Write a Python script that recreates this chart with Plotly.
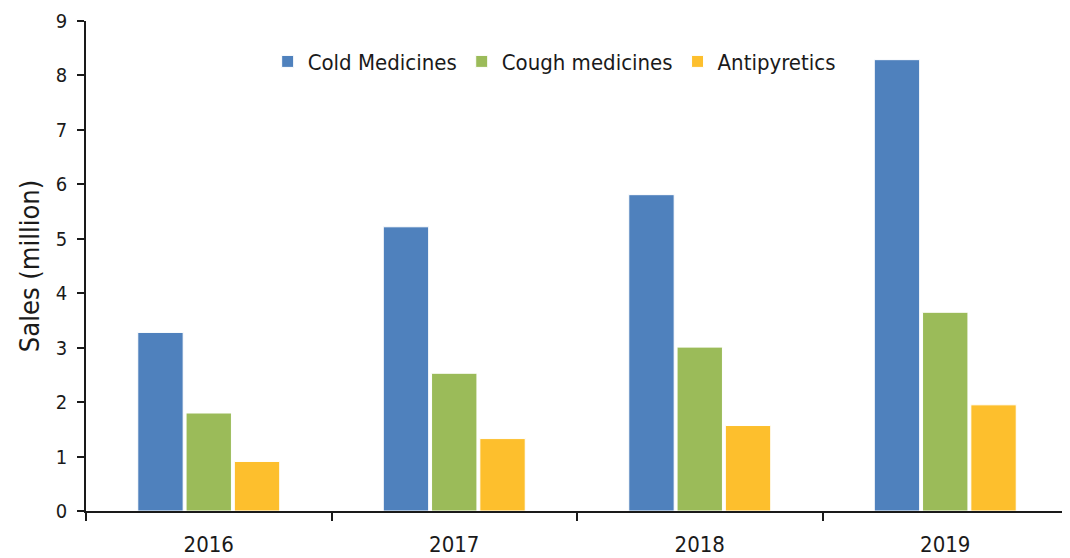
import plotly.graph_objects as go

years = ["2016", "2017", "2018", "2019"]
cold = [3.28, 5.22, 5.81, 8.29]
cough = [1.80, 2.53, 3.01, 3.65]
antipyretics = [0.91, 1.33, 1.57, 1.95]
series_names = ["Cold Medicines", "Cough medicines", "Antipyretics"]
colors = ["#4F81BD", "#9BBB59", "#FDBF2D"]

fig = go.Figure()
for name, vals, col in zip(series_names, [cold, cough, antipyretics], colors):
    fig.add_trace(go.Bar(x=years, y=vals, name=name,
                         marker=dict(color=col, line=dict(color="white", width=1))))

font_family = "DejaVu Sans Condensed, DejaVu Sans, sans-serif"
fig.update_layout(
    width=1062, height=550,
    margin=dict(l=78, r=2, t=13, b=47),
    paper_bgcolor="white", plot_bgcolor="white",
    barmode="group", bargap=0.41, bargroupgap=0.06,
    font=dict(family=font_family, color="#1a1a1a", size=20),
    legend=dict(orientation="h", x=0.185, y=0.96, xanchor="left", yanchor="top",
                font=dict(size=22), itemwidth=30, traceorder="normal",
                bgcolor="rgba(0,0,0,0)"),
    xaxis=dict(showline=True, linecolor="#1a1a1a", linewidth=1.5,
               ticks="outside", tickson="boundaries", ticklen=8, tickcolor="#1a1a1a",
               tickwidth=1.5, tickfont=dict(size=22), showgrid=False,
               ticklabelstandoff=13, automargin=False),
    yaxis=dict(range=[0, 9], dtick=1, showline=True, linecolor="#1a1a1a", linewidth=1.5,
               ticks="outside", ticklen=7, tickcolor="#1a1a1a", tickwidth=1.5,
               showgrid=False, zeroline=False, tickfont=dict(size=20),
               ticklabelstandoff=6, automargin=False, ticklabeloverflow="allow",
               title=dict(text="Sales (million)", font=dict(size=27), standoff=8)),
)

fig.write_html("out.html")
